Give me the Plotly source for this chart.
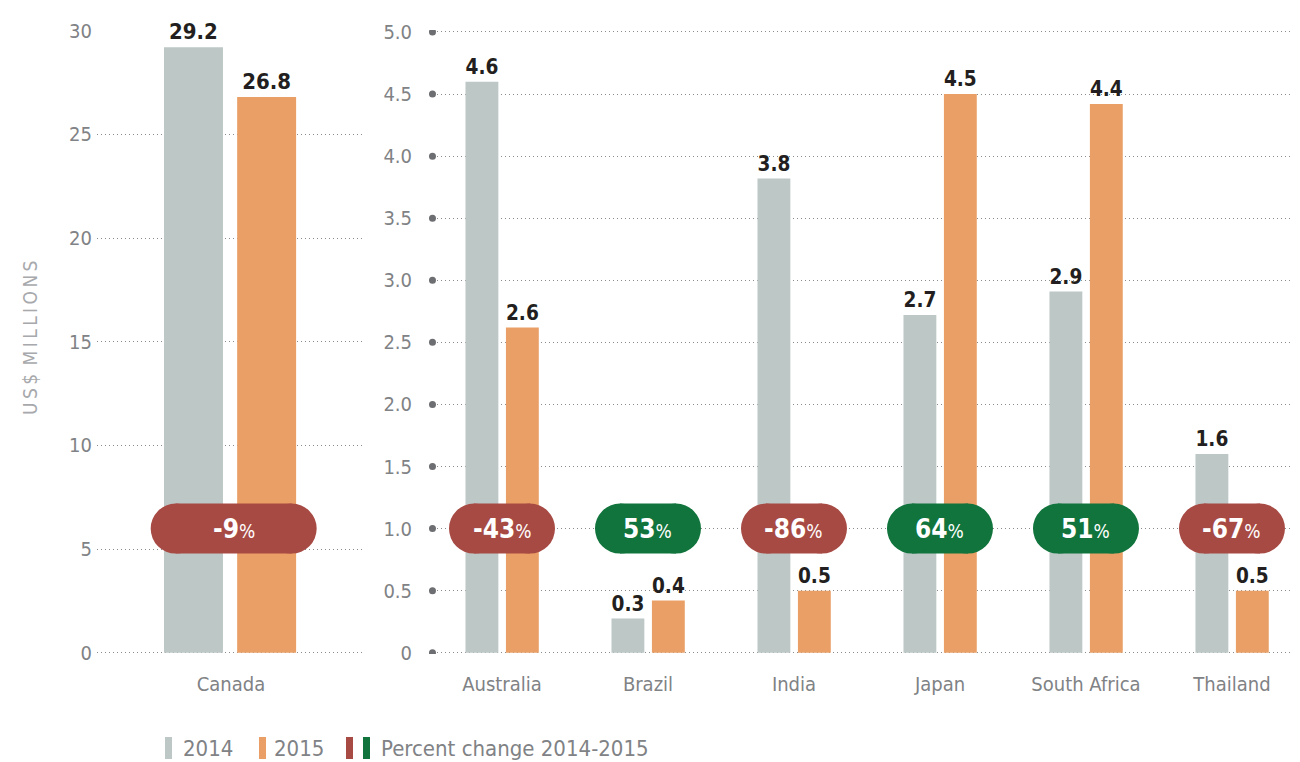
import plotly.graph_objects as go

# ---- data ----
left_categories = ["Canada"]
left_2014 = [29.2]
left_2015 = [26.8]
left_change = [-9]

right_categories = ["Australia", "Brazil", "India", "Japan", "South Africa", "Thailand"]
right_2014 = [4.6, 0.275, 3.82, 2.72, 2.91, 1.6]
right_2015 = [2.62, 0.42, 0.5, 4.5, 4.42, 0.5]
right_change = [-43, 53, -86, 64, 51, -67]

left_ticks = [0, 5, 10, 15, 20, 25, 30]
right_ticks = [0, 0.5, 1.0, 1.5, 2.0, 2.5, 3.0, 3.5, 4.0, 4.5, 5.0]
right_ticktext = ["0", "0.5", "1.0", "1.5", "2.0", "2.5", "3.0", "3.5", "4.0", "4.5", "5.0"]
pill_level = 1.0  # pills sit on the 1.0 line of the right scale

# ---- style ----
FONT = "DejaVu Sans Condensed, Liberation Sans Narrow, Roboto Condensed, Arial Narrow, sans-serif"
C2014 = "#BCC7C6"
C2015 = "#E99F66"
CNEG = "#A84A44"
CPOS = "#10743C"
TXT = "#231F20"
GRAY = "#808285"
GRID = "#8A8C8E"
OFF = 8                      # page body margin
W, H = 1300 - OFF, 762 - OFF


def px(x):
    return (x - OFF) / W


def py(y):
    return 1 - (y - OFF) / H


fig = go.Figure()

label_font = dict(family=FONT, size=22, color=TXT)

bar_common = dict(texttemplate="<b>%{y:.1f}</b>", textposition="outside",
                  textfont=label_font, cliponaxis=False, showlegend=False,
                  hoverinfo="skip")
fig.add_trace(go.Bar(x=left_categories, y=left_2014, xaxis="x", yaxis="y",
                     marker_color=C2014, width=0.22, offset=-0.25, **bar_common))
fig.add_trace(go.Bar(x=left_categories, y=left_2015, xaxis="x", yaxis="y",
                     marker_color=C2015, width=0.22, offset=0.023, **bar_common))
fig.add_trace(go.Bar(x=right_categories, y=right_2014, xaxis="x2", yaxis="y2",
                     marker_color=C2014, width=0.225, offset=-0.25, **bar_common))
fig.add_trace(go.Bar(x=right_categories, y=right_2015, xaxis="x2", yaxis="y2",
                     marker_color=C2015, width=0.225, offset=0.027, **bar_common))

shapes = []
annotations = []


def add_pill(xref, xidx, value, half_rect):
    col = CPOS if value > 0 else CNEG
    r = 25
    common = dict(xref=xref, yref="y2", xsizemode="pixel", ysizemode="pixel",
                  xanchor=xidx, yanchor=pill_level, fillcolor=col,
                  line=dict(width=0), layer="above")
    shapes.append(dict(type="rect", x0=-half_rect, x1=half_rect, y0=-r, y1=r, **common))
    shapes.append(dict(type="circle", x0=-half_rect - r, x1=-half_rect + r, y0=-r, y1=r, **common))
    shapes.append(dict(type="circle", x0=half_rect - r, x1=half_rect + r, y0=-r, y1=r, **common))
    annotations.append(dict(
        xref=xref, yref="y2", x=xidx, y=pill_level, showarrow=False,
        text=f"<b>{value}</b><span style='font-size:19px'>%</span>",
        font=dict(family=FONT, size=26, color="white"), xanchor="center", yanchor="middle"))


for i, v in enumerate(left_change):
    add_pill("x", i + 0.01, v, 58)
for i, v in enumerate(right_change):
    add_pill("x2", i, v, 28)

# dots at the right-axis ticks
for t in right_ticks:
    shapes.append(dict(type="circle", xref="x2 domain", yref="y2", xsizemode="pixel",
                       ysizemode="pixel", xanchor=0.004, yanchor=t,
                       x0=-3.5, x1=3.5, y0=-3.5, y1=3.5, fillcolor="#6D6E71",
                       line=dict(width=0)))

# y-axis title
annotations.append(dict(xref="paper", yref="paper", x=px(30), y=py(338),
                        text="U\u2009S\u2009$\u2002M\u2009I\u2009L\u2009L\u2009I\u2009O\u2009N\u2009S",
                        textangle=-90, showarrow=False,
                        font=dict(family=FONT, size=19, color="#A7A9AC"),
                        xanchor="center", yanchor="middle"))

# legend
legend_items = [
    ([(165, C2014)], 181, "2014"),
    ([(259, C2015)], 272, "2015"),
    ([(346, CNEG), (363, CPOS)], 379, "Percent change 2014-2015"),
]
for swatches, tx, label in legend_items:
    for sx, col in swatches:
        shapes.append(dict(type="rect", xref="paper", yref="paper",
                           x0=px(sx), x1=px(sx + 7),
                           y0=py(759), y1=py(737),
                           fillcolor=col, line=dict(width=0)))
    annotations.append(dict(xref="paper", yref="paper", x=px(tx), y=py(748),
                            text=label, showarrow=False, xanchor="left", yanchor="middle",
                            font=dict(family=FONT, size=22, color=GRAY)))

ydom = [py(654), py(30)]
tickfont = dict(family=FONT, size=20, color=GRAY)
grid = dict(showgrid=True, gridcolor=GRID, griddash="1px,3px", gridwidth=1)

fig.update_layout(
    template="none",
    width=W, height=H,
    margin=dict(l=0, r=0, t=0, b=0, autoexpand=False),
    paper_bgcolor="white", plot_bgcolor="white",
    showlegend=False,
    xaxis=dict(domain=[px(97), px(365)], range=[-0.5, 0.5], type="category",
               tickfont=tickfont, showgrid=False, zeroline=False, showline=False,
               ticks="", ticklabelstandoff=16, anchor="y", automargin=False),
    yaxis=dict(domain=ydom, range=[-0.06, 30.03], tickvals=left_ticks, tickfont=tickfont,
               zeroline=False, showline=False, ticks="", ticklabelstandoff=4,
               anchor="x", automargin=False, **grid),
    xaxis2=dict(domain=[px(429), 1.0], range=[-0.5, 5.466], type="category",
                tickfont=tickfont, showgrid=False, zeroline=False, showline=False,
                ticks="", ticklabelstandoff=16, anchor="y2", automargin=False),
    yaxis2=dict(domain=ydom, range=[-0.01, 5.016], tickvals=right_ticks, ticktext=right_ticktext,
                tickfont=tickfont, zeroline=False, showline=False, ticks="",
                ticklabelstandoff=16, anchor="x2", automargin=False, **grid),
    shapes=shapes,
    annotations=annotations,
)

fig.write_html("out.html")
